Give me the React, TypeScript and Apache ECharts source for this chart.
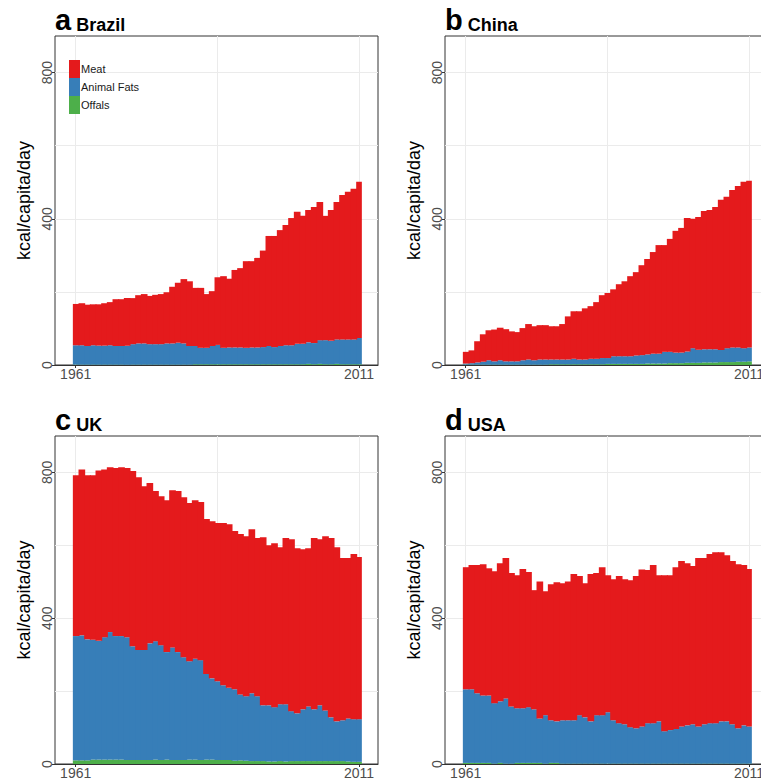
import React, { useEffect, useRef } from 'react';
import * as echarts from 'echarts';

const FONT = '"Liberation Sans", Arial, Helvetica, sans-serif';

const YEARS: number[] = Array.from({ length: 51 }, (_, i) => 1961 + i);
const X_TICKS = [1961, 2011];
const X_GRID = [1961, 1986, 2011];
const Y_TICKS = [0, 400, 800];
const Y_GRID = [200, 400, 600, 800];
const LEGEND_ORDER = ['Meat', 'Animal Fats', 'Offals'];
const STACK_ORDER = ['Offals', 'Animal Fats', 'Meat'];
const COLORS: Record<string, string> = { Meat: '#E41A1C', 'Animal Fats': '#377EB8', Offals: '#4DAF4A' };

// Brazil (kcal/capita/day), 1961-2011
const BRAZIL_MEAT = [113, 115, 113, 112, 113, 116, 118, 128, 128, 130, 126, 132, 135, 132, 135, 137, 140, 155, 164, 176, 177, 159, 164, 147, 150, 185, 196, 188, 212, 217, 237, 236, 245, 264, 301, 304, 317, 329, 348, 361, 350, 362, 372, 378, 340, 358, 376, 395, 404, 412, 427];
const BRAZIL_FATS = [53, 53, 51, 53, 52, 52, 53, 51, 51, 52, 56, 58, 58, 56, 56, 56, 58, 58, 60, 58, 51, 50, 45, 45, 50, 53, 45, 46, 46, 46, 45, 46, 46, 47, 50, 47, 50, 52, 52, 56, 56, 59, 58, 65, 66, 64, 67, 68, 68, 68, 72];
const BRAZIL_OFFALS = [1, 1, 1, 1, 1, 1, 1, 1, 1, 1, 1, 1, 1, 1, 1, 1, 1, 1, 1, 1, 1, 2, 2, 2, 2, 2, 2, 2, 2, 2, 2, 2, 2, 2, 2, 2, 2, 2, 2, 2, 2, 3, 2, 3, 2, 2, 3, 2, 2, 2, 2];

// China
const CHINA_MEAT = [32, 35, 58, 75, 82, 87, 89, 88, 82, 80, 88, 97, 93, 94, 94, 91, 91, 97, 118, 130, 132, 140, 144, 155, 172, 178, 183, 197, 205, 219, 228, 246, 261, 278, 297, 292, 309, 333, 341, 365, 354, 363, 378, 381, 389, 411, 414, 431, 442, 455, 456];
const CHINA_FATS = [3, 4, 6, 8, 12, 9, 12, 9, 9, 9, 12, 14, 12, 14, 14, 13, 13, 13, 13, 15, 13, 13, 15, 15, 17, 16, 21, 21, 21, 21, 23, 24, 25, 27, 27, 32, 31, 29, 29, 31, 40, 36, 36, 36, 36, 33, 38, 40, 39, 37, 38];
const CHINA_OFFALS = [1, 1, 1, 1, 1, 1, 1, 1, 1, 1, 1, 1, 1, 1, 1, 2, 2, 2, 2, 2, 2, 2, 2, 2, 2, 3, 3, 3, 3, 3, 3, 3, 4, 4, 4, 4, 5, 5, 5, 6, 6, 6, 7, 7, 7, 8, 8, 8, 9, 9, 10];

// UK
const UK_MEAT = [441, 455, 450, 451, 467, 460, 452, 461, 463, 464, 481, 474, 449, 440, 412, 409, 417, 431, 442, 439, 434, 435, 434, 425, 431, 434, 445, 449, 434, 440, 439, 450, 434, 461, 439, 450, 431, 456, 472, 453, 439, 434, 470, 456, 478, 492, 478, 445, 440, 453, 445];
const UK_FATS = [341, 343, 332, 329, 326, 336, 350, 339, 339, 337, 312, 302, 302, 320, 325, 315, 295, 309, 296, 282, 270, 277, 274, 235, 223, 216, 205, 198, 196, 181, 177, 186, 178, 153, 154, 149, 156, 157, 137, 131, 142, 150, 142, 153, 139, 120, 109, 112, 118, 117, 117];
const UK_OFFALS = [10, 10, 10, 12, 12, 12, 12, 12, 12, 11, 11, 11, 11, 11, 12, 11, 12, 11, 11, 11, 12, 12, 11, 12, 12, 11, 11, 11, 9, 10, 9, 8, 8, 8, 7, 7, 8, 7, 8, 8, 8, 8, 8, 8, 8, 8, 8, 8, 7, 6, 6];

// USA
const USA_MEAT = [335, 341, 352, 360, 349, 362, 379, 385, 366, 365, 382, 371, 327, 376, 340, 373, 382, 376, 381, 401, 382, 368, 404, 390, 406, 376, 387, 404, 398, 403, 418, 431, 420, 434, 401, 428, 425, 444, 454, 445, 434, 462, 456, 464, 469, 464, 456, 448, 450, 440, 432];
const USA_FATS = [202, 202, 191, 185, 185, 166, 169, 179, 157, 150, 150, 153, 147, 122, 133, 117, 114, 119, 119, 119, 133, 127, 116, 133, 133, 141, 119, 111, 108, 100, 97, 102, 111, 111, 116, 89, 92, 95, 102, 105, 108, 102, 108, 111, 111, 116, 116, 108, 97, 105, 102];
const USA_OFFALS = [3, 3, 3, 3, 3, 1, 3, 1, 1, 3, 3, 3, 3, 3, 1, 3, 3, 1, 1, 1, 1, 1, 1, 1, 1, 1, 1, 1, 1, 1, 1, 1, 1, 1, 1, 1, 1, 1, 1, 1, 1, 1, 1, 1, 1, 1, 1, 1, 1, 1, 1];

const PANELS = [
  { letter: 'a', country: 'Brazil', values: { Meat: BRAZIL_MEAT, 'Animal Fats': BRAZIL_FATS, Offals: BRAZIL_OFFALS } },
  { letter: 'b', country: 'China', values: { Meat: CHINA_MEAT, 'Animal Fats': CHINA_FATS, Offals: CHINA_OFFALS } },
  { letter: 'c', country: 'UK', values: { Meat: UK_MEAT, 'Animal Fats': UK_FATS, Offals: UK_OFFALS } },
  { letter: 'd', country: 'USA', values: { Meat: USA_MEAT, 'Animal Fats': USA_FATS, Offals: USA_OFFALS } },
];

const LAYOUT = [
  { left: 55, top: 36, height: 329 },
  { left: 445, top: 36, height: 329 },
  { left: 55, top: 436, height: 328 },
  { left: 445, top: 436, height: 328 },
];
const PLOT_W = 323;
const X_MIN = 1957.35;
const X_MAX = 2014.35;
const Y_MAX = 900;

function buildOption() {
  const grid: any[] = [];
  const xAxis: any[] = [];
  const yAxis: any[] = [];
  const title: any[] = [];
  const series: any[] = [];

  PANELS.forEach((p, k) => {
    const L = LAYOUT[k];
    grid.push({
      left: L.left, top: L.top, width: PLOT_W, height: L.height,
      show: true, borderColor: '#333333', borderWidth: 1, backgroundColor: '#ffffff',
    });
    title.push({
      text: `{l|${p.letter}}{n| ${p.country}}`,
      left: L.left, top: L.top - 32, padding: 0,
      textStyle: {
        rich: {
          l: { fontSize: 29, fontWeight: 'bold', fontFamily: FONT, color: '#000', lineHeight: 30, verticalAlign: 'bottom' },
          n: { fontSize: 18, fontWeight: 'bold', fontFamily: FONT, color: '#000', lineHeight: 22, verticalAlign: 'bottom' },
        },
      },
    });
    xAxis.push({
      gridIndex: k, type: 'value', min: X_MIN, max: X_MAX, position: 'bottom', z: 5,
      axisLine: { show: true, onZero: false, lineStyle: { color: '#333333', width: 1 } },
      axisTick: { show: true, customValues: X_TICKS, length: 3, lineStyle: { color: '#333333', width: 1 } },
      axisLabel: {
        customValues: X_TICKS, fontSize: 14, color: '#4d4d4d', margin: 2, fontFamily: FONT,
        formatter: (v: number) => String(Math.round(v)),
      },
      splitLine: { show: false },
    });
    xAxis.push({
      gridIndex: k, type: 'value', min: X_MIN, max: X_MAX, position: 'top', z: 0,
      axisLine: { show: false },
      axisTick: { show: false, customValues: X_GRID },
      axisLabel: { show: false },
      splitLine: { show: true, lineStyle: { color: '#ebebeb', width: 1 } },
    });
    yAxis.push({
      gridIndex: k, type: 'value', min: 0, max: Y_MAX, position: 'left', z: 5,
      axisLine: { show: false },
      axisTick: { show: true, customValues: Y_TICKS, length: 3, lineStyle: { color: '#333333', width: 1 } },
      axisLabel: {
        customValues: Y_TICKS, rotate: 90, fontSize: 14, color: '#4d4d4d', margin: 1, fontFamily: FONT,
        formatter: (v: number) => String(Math.round(v)),
      },
      splitLine: { show: false },
      name: 'kcal/capita/day', nameLocation: 'middle', nameGap: 22,
      nameTextStyle: { fontSize: 18, color: '#000', fontFamily: FONT },
    });
    yAxis.push({
      gridIndex: k, type: 'value', min: 0, max: Y_MAX, position: 'right', z: 0,
      axisLine: { show: false },
      axisTick: { show: false, customValues: Y_GRID },
      axisLabel: { show: false },
      splitLine: { show: true, lineStyle: { color: '#ebebeb', width: 1 } },
    });

    const base = YEARS.map(() => 0);
    STACK_ORDER.forEach((name) => {
      const vals: number[] = (p.values as any)[name];
      const data = YEARS.map((yr, i) => {
        const lo = base[i];
        const hi = lo + vals[i];
        base[i] = hi;
        return [yr, lo, hi];
      });
      const color = COLORS[name];
      series.push({
        name, type: 'custom', xAxisIndex: 2 * k, yAxisIndex: 2 * k,
        itemStyle: { color },
        dimensions: ['year', 'lo', 'hi'],
        encode: { x: 0, y: [1, 2] },
        data,
        renderItem: (params: any, api: any) => {
          const x = api.value(0);
          const lo = api.value(1);
          const hi = api.value(2);
          const p0 = api.coord([x - 0.5, lo]);
          const p1 = api.coord([x + 0.5, hi]);
          const isLast = x === YEARS[YEARS.length - 1];
          return {
            type: 'rect',
            shape: { x: p0[0], y: p1[1], width: p1[0] - p0[0] + (isLast ? 0 : 1), height: p0[1] - p1[1] },
            style: { fill: color, stroke: null, lineWidth: 0 },
          };
        },
      });
    });
  });

  return {
    animation: false,
    backgroundColor: '#ffffff',
    textStyle: { fontFamily: FONT },
    title,
    grid,
    xAxis,
    yAxis,
    legend: {
      data: LEGEND_ORDER.map((n) => ({ name: n, icon: 'rect', itemStyle: { color: COLORS[n] } })),
      orient: 'vertical', left: 69, top: 60, padding: 0,
      itemWidth: 11, itemHeight: 18, itemGap: 0,
      selectedMode: false,
      textStyle: { fontSize: 11, color: '#1a1a1a', fontFamily: FONT, padding: [0, 0, 0, -4] },
    },
    series,
  };
}

export default function App() {
  const ref = useRef<HTMLDivElement>(null);
  useEffect(() => {
    if (!ref.current) return;
    const chart = echarts.init(ref.current, null, { renderer: 'svg' });
    chart.setOption(buildOption() as any);
    return () => chart.dispose();
  }, []);
  return (
    <div style={{ position: 'fixed', left: 0, top: 0, width: 761, height: 781, overflow: 'hidden', background: '#fff' }}>
      <div ref={ref} style={{ width: 790, height: 781 }} />
    </div>
  );
}
